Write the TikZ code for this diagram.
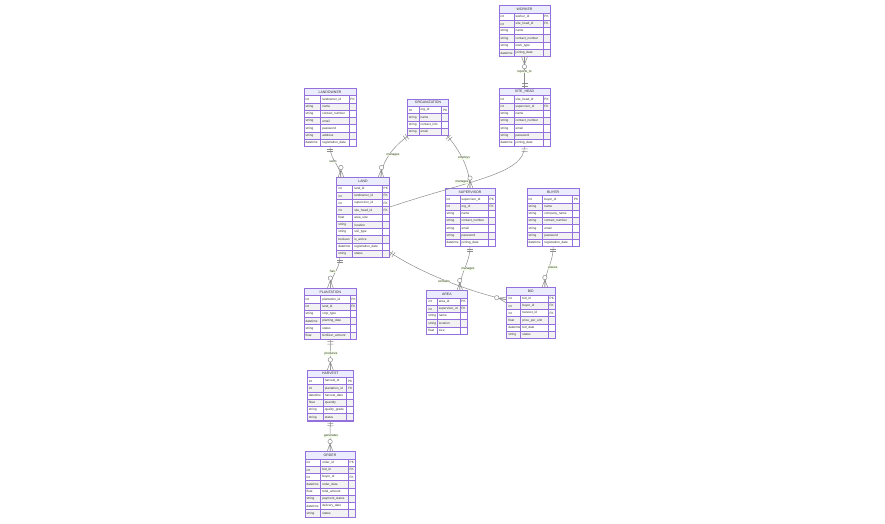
\documentclass[tikz,border=0pt]{standalone}
\usepackage{fontspec}
\setmainfont{Liberation Sans}
\usetikzlibrary{calc,decorations.markings}
\definecolor{entborder}{HTML}{9370DB}
\definecolor{enthead}{HTML}{ECECFF}
\definecolor{rowodd}{HTML}{FFFFFF}
\definecolor{roweven}{HTML}{F2F2F2}
\definecolor{relc}{HTML}{8C8C8C}
\definecolor{txtc}{HTML}{333333}
\definecolor{lblfill}{HTML}{F4FFE6}
\newcommand{\cellfont}{\fontsize{3.15}{4}\selectfont}
\newcommand{\hdrfont}{\fontsize{3.5}{4}\selectfont}
\tikzset{
  entframe/.style={inner sep=0pt, outer sep=0pt},
  entline/.style={draw=entborder, line width=0.7pt},
  enthdr/.style={draw=entborder, line width=0.5pt, fill=enthead, inner sep=0pt, outer sep=0pt,
     minimum height=7.25pt, font=\hdrfont, text=txtc},
  cellline/.style={draw=entborder, line width=0.5pt},
  celltxt/.style={font=\cellfont, text=txtc, inner sep=0pt, anchor=west},
  lbl/.style={font=\cellfont, text=txtc, fill=lblfill, fill opacity=0.8, text opacity=1, inner sep=0.6pt},
  rel/.style={draw=relc, line width=0.5pt, postaction={decorate, decoration={markings,
     mark=at position 0 with {\draw[relc, line width=0.5pt] (2.5pt,-3pt)--(2.5pt,3pt) (5pt,-3pt)--(5pt,3pt);},
     mark=at position 0.99999 with {\draw[relc, line width=0.5pt] (0pt,-3pt)--(-8pt,0pt)--(0pt,3pt) (0pt,0pt)--(-8pt,0pt);
        \draw[relc, line width=0.5pt, fill=white] (-10.2pt,0pt) circle (2.2pt);}}}}
}
% #1 id, #2 x, #3 y, #4 w1, #5 w2, #6 w3, #7 title, #8 rows count, #9 rows
\newcommand{\erent}[9]{%
  \pgfmathsetmacro{\ew}{#4+#5+#6}%
  \pgfmathsetmacro{\eh}{(#8+1)*7.25}%
  \node[entframe, minimum width=\ew pt, minimum height=\eh pt, anchor=north west] (#1) at (#2,#3) {};
  \node[enthdr, minimum width=\ew pt, anchor=north west] (#1-h) at (#2,#3) {#7};
  \foreach [count=\i] \ta/\na/\ka in {#9} {%
    \pgfmathsetmacro{\yy}{#3+\i*7.25}%
    \pgfmathtruncatemacro{\odd}{mod(\i,2)}%
    \ifnum\odd=1 \def\rf{rowodd}\else\def\rf{roweven}\fi
    \draw[cellline, fill=\rf] (#2,\yy) rectangle ++(#4,7.25);
    \draw[cellline, fill=\rf] ({#2+#4},\yy) rectangle ++(#5,7.25);
    \draw[cellline, fill=\rf] ({#2+#4+#5},\yy) rectangle ++(#6,7.25);
    \node[celltxt] (#1-a\i) at ({#2+1.4},{\yy+3.7}) {\ta};
    \node[celltxt] (#1-b\i) at ({#2+#4+1.4},{\yy+3.7}) {\na};
    \node[celltxt] (#1-c\i) at ({#2+#4+#5+1.2},{\yy+3.7}) {\ka};
  }
  \draw[entline] (#1.north west) rectangle (#1.south east);
}
\begin{document}
\begin{tikzpicture}[x=1pt,y=-1pt]
\useasboundingbox[fill=white] (0,0) rectangle (885,523);

\erent{worker}{499}{5.7}{15}{29}{7}{WORKER}{6}{int/worker\_id/PK, int/site\_head\_id/FK, string/name/{}, string/contact\_number/{}, string/work\_type/{}, datetime/joining\_date/{}}
\erent{sitehead}{499}{88.3}{15}{29}{7}{SITE\_HEAD}{7}{int/site\_head\_id/PK, int/supervisor\_id/FK, string/name/{}, string/contact\_number/{}, string/email/{}, string/password/{}, datetime/joining\_date/{}}
\erent{landowner}{304}{88.3}{16.7}{28.3}{7}{LANDOWNER}{7}{int/landowner\_id/PK, string/name/{}, string/contact\_number/{}, string/email/{}, string/password/{}, string/address/{}, datetime/registration\_date/{}}
\erent{org}{407.3}{99}{11.7}{22.7}{7}{ORGANIZATION}{4}{int/org\_id/PK, string/name/{}, string/contact\_info/{}, string/email/{}}
\erent{land}{336.7}{177.7}{16}{29.6}{7}{LAND}{10}{int/land\_id/PK, int/landowner\_id/FK, int/supervisor\_id/FK, int/site\_head\_id/FK, float/area\_size/{}, string/location/{}, string/soil\_type/{}, boolean/is\_active/{}, datetime/registration\_date/{}, string/status/{}}
\erent{supervisor}{445}{188.3}{15}{28.3}{6.7}{SUPERVISOR}{7}{int/supervisor\_id/PK, int/org\_id/FK, string/name/{}, string/contact\_number/{}, string/email/{}, string/password/{}, datetime/joining\_date/{}}
\erent{buyer}{527}{188.3}{15.7}{30}{6.6}{BUYER}{7}{int/buyer\_id/PK, string/name/{}, string/company\_name/{}, string/contact\_number/{}, string/email/{}, string/password/{}, datetime/registration\_date/{}}
\erent{plantation}{304}{288.3}{16.7}{29.3}{6.7}{PLANTATION}{6}{int/plantation\_id/PK, int/land\_id/FK, string/crop\_type/{}, datetime/planting\_date/{}, string/status/{}, float/fertilizer\_amount/{}}
\erent{area}{426.7}{290.7}{10.6}{22.7}{7}{AREA}{5}{int/area\_id/PK, int/supervisor\_id/FK, string/name/{}, string/location/{}, float/size/{}}
\erent{bid}{506.7}{287.7}{14}{27.6}{6.7}{BID}{6}{int/bid\_id/PK, int/buyer\_id/FK, int/harvest\_id/FK, float/price\_per\_unit/{}, datetime/bid\_date/{}, string/status/{}}
\erent{harvest}{307.3}{370}{16}{23.4}{6.6}{HARVEST}{6}{int/harvest\_id/PK, int/plantation\_id/FK, datetime/harvest\_date/{}, float/quantity/{}, string/quality\_grade/{}, string/status/{}}
\erent{order}{305}{451.7}{15.7}{27.6}{6.7}{ORDER}{8}{int/order\_id/PK, int/bid\_id/FK, int/buyer\_id/FK, datetime/order\_date/{}, float/total\_amount/{}, string/payment\_status/{}, datetime/delivery\_date/{}, string/status/{}}

% relationships (one side -> many side)
\draw[rel] (sitehead.north) -- (worker.south);
\draw[rel] (landowner.south) .. controls +(0,14) and +(0,-12) .. ($(land.north west)!0.08!(land.north east)$);
\draw[rel] ($(org.south west)!0.04!(org.south east)$) .. controls +(-14,10) and +(1,-18) .. ($(land.north west)!0.84!(land.north east)$);
\draw[rel] ($(org.south west)!0.95!(org.south east)$) .. controls +(9,10) and +(0,-23) .. (supervisor.north);
\draw[rel] (sitehead.south) .. controls +(0,28) and +(80,-27) .. ($(land.north east)!0.37!(land.south east)$);
\draw[rel] (supervisor.south) .. controls +(0,18) and +(0,-19) .. ($(area.north west)!0.82!(area.north east)$);
\draw[rel] ($(land.north east)!0.93!(land.south east)$) .. controls +(31,21) and +(-37,-8) .. ($(bid.north west)!0.24!(bid.south west)$);
\draw[rel] (buyer.south) .. controls +(0,18) and +(0,-18) .. ($(bid.north west)!0.79!(bid.north east)$);
\draw[rel] ($(land.south west)!0.06!(land.south east)$) .. controls +(0,12) and +(0,-13) .. (plantation.north);
\draw[rel] (plantation.south) -- (harvest.north);
\draw[rel] (harvest.south) -- (order.north);

% labels
\node[lbl] (l1) at (524.5,71.5) {reports\_to};
\node[lbl] (l2) at (333,162) {owns};
\node[lbl] (l3) at (393,154.5) {manages};
\node[lbl] (l4) at (464,158) {employs};
\node[lbl] (l5) at (462,182) {manages};
\node[lbl] (l6) at (468,269) {manages};
\node[lbl] (l7) at (444,281.5) {contains};
\node[lbl] (l8) at (553,267.5) {places};
\node[lbl] (l9) at (332.5,271) {has};
\node[lbl] (l10) at (331,353.5) {produces};
\node[lbl] (l11) at (331,436) {generates};
\end{tikzpicture}
\end{document}
